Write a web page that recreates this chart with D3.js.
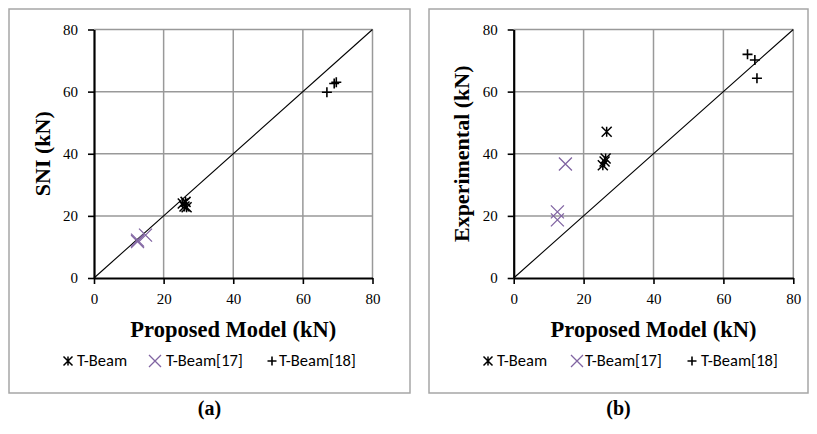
<!DOCTYPE html>
<html>
<head>
<meta charset="utf-8">
<script src="https://cdn.jsdelivr.net/npm/d3@7"></script>
<style>
  html, body { margin: 0; padding: 0; background: #fff; }
  svg { display: block; }
  .serif { font-family: "Liberation Serif", "Times New Roman", Tinos, serif; }
  .sans { font-family: Carlito, Calibri, Lato, sans-serif; }
</style>
</head>
<body>
<svg id="chart" width="817" height="434"></svg>
<script>
// Shear capacity: proposed model against SNI (a) and experimental results (b)
const ticks = [0, 20, 40, 60, 80];
const seriesNames = ["T-Beam", "T-Beam[17]", "T-Beam[18]"];

// T-Beam (this study)
const tbeamModel = [25.5, 26.0, 26.3, 26.6];
const tbeamSNI   = [24.0, 23.0, 24.5, 22.8];
const tbeamExp   = [36.3, 37.5, 38.5, 47.1];

// T-Beam [17]
const tb17Model = [12.5, 12.5, 14.8];
const tb17SNI   = [11.7, 12.2, 13.8];
const tb17Exp   = [18.7, 21.3, 36.7];

// T-Beam [18]
const tb18Model = [66.9, 69.0, 69.6];
const tb18SNI   = [59.8, 62.6, 63.0];
const tb18Exp   = [72.0, 70.2, 64.3];

const panels = [
  { frame: [9, 9, 410, 393], plot: [94, 29.5, 372.5, 278], yTitle: "SNI (kN)", caption: "(a)",
    ys: [tbeamSNI, tb17SNI, tb18SNI],
    legend: { mark: [68, 155, 272], text: [77, 166, 279] } },
  { frame: [429, 9, 808, 393], plot: [513.7, 29.5, 793.3, 278], yTitle: "Experimental (kN)", caption: "(b)",
    ys: [tbeamExp, tb17Exp, tb18Exp],
    legend: { mark: [488, 577, 692], text: [497, 585, 701] } }
];
const xsAll = [tbeamModel, tb17Model, tb18Model];

const purple = "#8064a2";

// marker outlines, centred on the origin
function asteriskPath(s) {
  const h = s / 2;
  return `M${-h},${-h}L${h},${h}M${-h},${h}L${h},${-h}M0,${-h}L0,${h}`;
}
function timesPath(s) {
  const h = s / 2;
  return `M${-h},${-h}L${h},${h}M${-h},${h}L${h},${-h}`;
}
function plusPath(s) {
  const h = s / 2;
  return `M${-h},0L${h},0M0,${-h}L0,${h}`;
}
const markerStyles = [
  { path: asteriskPath, size: 10, color: "#000", width: 1.5, legendSize: 9 },
  { path: timesPath, size: 13, color: purple, width: 1.3, legendSize: 12 },
  { path: plusPath, size: 10, color: "#000", width: 1.6, legendSize: 9 }
];

const svg = d3.select("#chart");

panels.forEach(p => {
  const g = svg.append("g");
  const [fx0, fy0, fx1, fy1] = p.frame;
  g.append("rect")
    .attr("x", fx0).attr("y", fy0)
    .attr("width", fx1 - fx0).attr("height", fy1 - fy0)
    .attr("fill", "#fff").attr("stroke", "#a6a6a6").attr("stroke-width", 1.5);

  const [px0, py0, px1, py1] = p.plot;
  const x = d3.scaleLinear().domain([0, 80]).range([px0, px1]);
  const y = d3.scaleLinear().domain([0, 80]).range([py1, py0]);

  // gridlines
  g.append("g").selectAll("line").data(ticks.slice(1)).join("line")
    .attr("x1", d => x(d)).attr("x2", d => x(d))
    .attr("y1", y(0)).attr("y2", y(80))
    .attr("stroke", "#999").attr("stroke-width", 1.5);
  g.append("g").selectAll("line").data(ticks.slice(1)).join("line")
    .attr("y1", d => y(d)).attr("y2", d => y(d))
    .attr("x1", x(0)).attr("x2", x(80))
    .attr("stroke", "#999").attr("stroke-width", 1.5);

  // 1:1 line
  g.append("line")
    .attr("x1", x(0)).attr("y1", y(0)).attr("x2", x(80)).attr("y2", y(80))
    .attr("stroke", "#000").attr("stroke-width", 1.1);

  // axes
  const xAxis = g.append("g").attr("transform", `translate(0,${y(0)})`)
    .call(d3.axisBottom(x).tickValues(ticks).tickSize(6).tickSizeOuter(0).tickPadding(9));
  const yAxis = g.append("g").attr("transform", `translate(${x(0)},0)`)
    .call(d3.axisLeft(y).tickValues(ticks).tickSize(6).tickSizeOuter(0).tickPadding(10));
  [xAxis, yAxis].forEach(a => {
    a.attr("font-family", null).attr("font-size", null);
    a.select(".domain").attr("stroke", "#000").attr("stroke-width", 2.2);
    a.selectAll(".tick line").attr("stroke", "#000").attr("stroke-width", 1.6);
    a.selectAll(".tick text").attr("fill", "#000").attr("class", "serif")
      .style("font-size", "15px");
  });

  // axis titles
  g.append("text").attr("class", "serif")
    .attr("x", (px0 + px1) / 2).attr("y", 336.5)
    .attr("text-anchor", "middle")
    .style("font-size", "22.5px").style("font-weight", "bold")
    .text("Proposed Model (kN)");
  g.append("text").attr("class", "serif")
    .attr("transform", `translate(${px0 - 44.5},${(py0 + py1) / 2}) rotate(-90)`)
    .attr("text-anchor", "middle")
    .style("font-size", "22px").style("font-weight", "bold")
    .text(p.yTitle);

  // data markers
  markerStyles.forEach((m, i) => {
    const pts = xsAll[i].map((xv, k) => [xv, p.ys[i][k]]);
    g.append("g").selectAll("path").data(pts).join("path")
      .attr("transform", d => `translate(${x(d[0])},${y(d[1])})`)
      .attr("d", m.path(m.size))
      .attr("fill", "none").attr("stroke", m.color).attr("stroke-width", m.width);
  });

  // legend
  markerStyles.forEach((m, i) => {
    g.append("path")
      .attr("transform", `translate(${p.legend.mark[i]},361)`)
      .attr("d", m.path(m.legendSize))
      .attr("fill", "none").attr("stroke", m.color).attr("stroke-width", m.width);
    g.append("text").attr("class", "sans")
      .attr("x", p.legend.text[i]).attr("y", 366)
      .style("font-size", "16.5px")
      .attr("fill", "#000")
      .text(seriesNames[i]);
  });

  // panel caption
  g.append("text").attr("class", "serif")
    .attr("x", (fx0 + fx1) / 2).attr("y", 415)
    .attr("text-anchor", "middle")
    .style("font-size", "20px").style("font-weight", "bold")
    .text(p.caption);
});
</script>
</body>
</html>
